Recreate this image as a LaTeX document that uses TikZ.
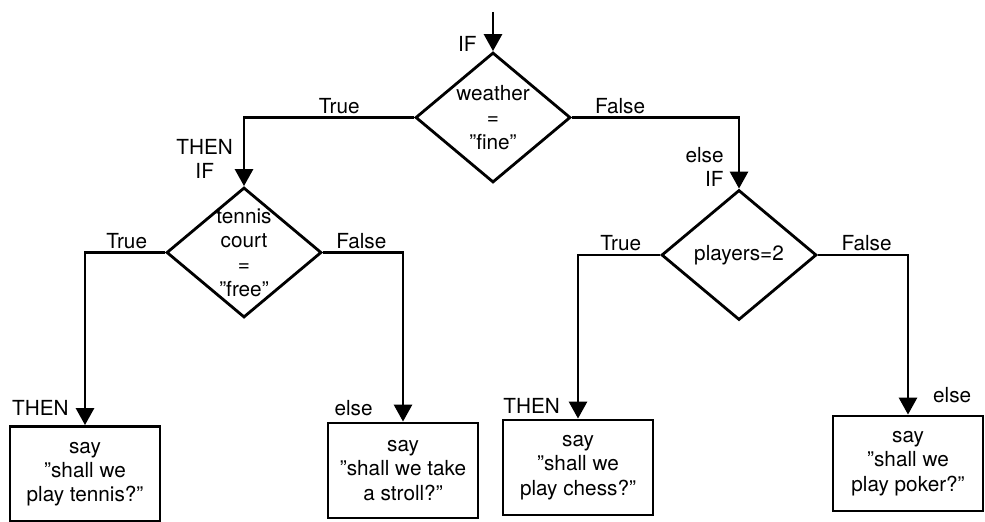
\documentclass[tikz,border=0pt]{standalone}
\usepackage{fontspec}
\setmainfont{TeX Gyre Heros}
\usetikzlibrary{shapes.geometric,arrows.meta}

\begin{document}
\begin{tikzpicture}[
  line width=1.6pt,
  font=\fontsize{11.8}{13.8}\selectfont,
  execute at begin node={\setlength{\baselineskip}{13.8pt}},
  test/.style={shape=diamond,draw=black,minimum width=3.1cm,minimum height=2.6cm,inner sep=-4pt,align=center},
  say/.style={shape=rectangle,draw=black,minimum width=3cm,minimum height=1.9cm,align=center},
  flow/.style={-{Triangle[width=0.36cm,length=0.34cm]}},
  elbow/.style={to path={-| (\tikztotarget) \tikztonodes}},
  lbl/.style={inner sep=1.5pt}
]
\useasboundingbox (0,0) rectangle (19.7,10.42);

% tests
\coordinate (start) at (9.86,10.18);
\node[test] (weather) at (9.86,8.07) {weather\\=\\”fine”};
\node[test] (court) at (4.88,5.37) {tennis\\court\\=\\”free”};
\node[test] (players) at (14.78,5.32) {players=2};

% actions
\node[say] (tennis) at (1.70,0.94) {say\\”shall we\\play tennis?”};
\node[say] (stroll) at (8.06,1.01) {say\\”shall we take\\a stroll?”};
\node[say] (chess) at (11.56,1.07) {say\\”shall we\\play chess?”};
\node[say] (poker) at (18.16,1.15) {say\\”shall we\\play poker?”};

\path [flow] (start) edge node[lbl,pos=0.82,left=7pt] {IF} (weather.north);
\path [flow] (weather.west) edge[elbow] node[lbl,pos=0.22,above] {True} node[lbl,pos=0.8,left=4pt,align=center] {THEN\\IF} (court.north);
\path [flow] (weather.east) edge[elbow] node[lbl,pos=0.144,above] {False} node[lbl,pos=0.85,left=6.5pt,align=right] {else\\IF} (players.north);
\path [flow] (court.west) edge[elbow] node[lbl,pos=0.24,above] {True} node[lbl,pos=0.95,left=7pt] {THEN} (tennis.north);
\path [flow] (court.east) edge[elbow] node[lbl,pos=0.24,above] {False} node[lbl,pos=0.96,left=15pt] {else} (stroll.north);
\path [flow] (players.west) edge[elbow] node[lbl,pos=0.24,above] {True} node[lbl,pos=0.96,left=8pt] {THEN} (chess.north);
\path [flow] (players.east) edge[elbow] node[lbl,pos=0.27,above] {False} node[lbl,pos=0.94,right=12pt] {else} (poker.north);
\end{tikzpicture}
\end{document}
